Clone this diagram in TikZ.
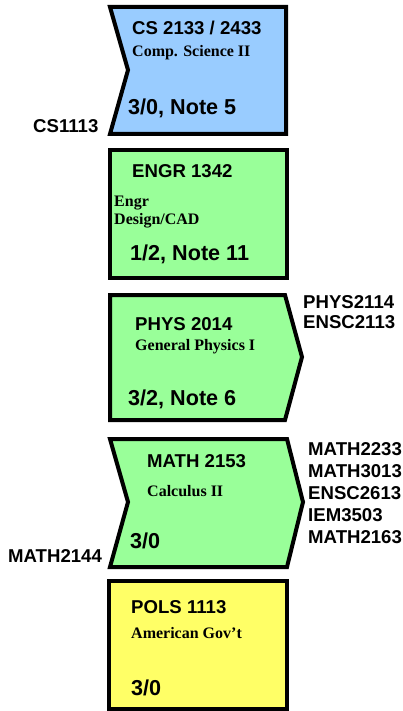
\documentclass[tikz,border=0pt]{standalone}
\usepackage{fontspec}
\setmainfont{Liberation Sans}
\newfontfamily\titlefont{Liberation Serif}
\definecolor{cblue}{HTML}{99CCFF}
\definecolor{cgreen}{HTML}{99FF99}
\definecolor{cyellow}{HTML}{FFFF66}
\tikzset{
  box/.style={draw=black, line width=4pt, line join=miter},
  code/.style={anchor=base west, inner sep=0pt, font=\bfseries\fontsize{18.6}{21}\selectfont},
  credit/.style={anchor=base west, inner sep=0pt, font=\bfseries\fontsize{21.6}{24}\selectfont},
  title/.style={anchor=base west, inner sep=0pt, font=\titlefont\bfseries\fontsize{16}{18}\selectfont},
  lbl/.style={anchor=base west, inner sep=0pt, font=\bfseries\fontsize{18.6}{21}\selectfont},
}
\begin{document}
\begin{tikzpicture}[x=1pt,y=-1pt]
\useasboundingbox (0,0) rectangle (402,711);
% boxes
\path[box, fill=cblue] (110,7) -- (286,7) -- (286,134) -- (110,134) -- (128,70) -- cycle;
\path[box, fill=cgreen] (110,150) -- (287,150) -- (287,278) -- (110,278) -- cycle;
\path[box, fill=cgreen] (110,295) -- (285,295) -- (302,357) -- (285,420) -- (110,420) -- cycle;
\path[box, fill=cgreen] (110,439) -- (287,439) -- (303,502) -- (287,567) -- (110,567) -- (128,502) -- cycle;
\path[box, fill=cyellow] (109,581) -- (287,581) -- (287,709) -- (109,709) -- cycle;
% CS
\node[code] (cs) at (132,35) {CS 2133 / 2433};
\node[title] (cst) at (132,57) {Comp. Science II};
\node[credit] (csc) at (128,115) {3/0, Note 5};
\node[lbl] (cs1113) at (33,133) {CS1113};
% ENGR
\node[code] (engr) at (132,178) {ENGR 1342};
\node[title] (engrt1) at (114,207) {Engr};
\node[title] (engrt2) at (114,224) {Design/CAD};
\node[credit] (engrc) at (130,260) {1/2, Note 11};
% PHYS
\node[code] (phys) at (135,330) {PHYS 2014};
\node[title] (physt) at (135,350) {General Physics I};
\node[credit] (physc) at (128,405) {3/2, Note 6};
\node[lbl] (p1) at (303,308) {PHYS2114};
\node[lbl] (p2) at (303,328) {ENSC2113};
% MATH
\node[code] (math) at (147,467) {MATH 2153};
\node[title] (matht) at (147,496) {Calculus II};
\node[credit] (mathc) at (130,548) {3/0};
\node[lbl] (m0) at (8,562) {MATH2144};
\node[lbl] (m1) at (308,455) {MATH2233};
\node[lbl] (m2) at (308,477) {MATH3013};
\node[lbl] (m3) at (308,499) {ENSC2613};
\node[lbl] (m4) at (308,521) {IEM3503};
\node[lbl] (m5) at (308,543) {MATH2163};
% POLS
\node[code] (pols) at (131,613) {POLS 1113};
\node[title] (polst) at (131,638) {American Gov’t};
\node[credit] (polsc) at (131,695) {3/0};
\end{tikzpicture}
\end{document}
